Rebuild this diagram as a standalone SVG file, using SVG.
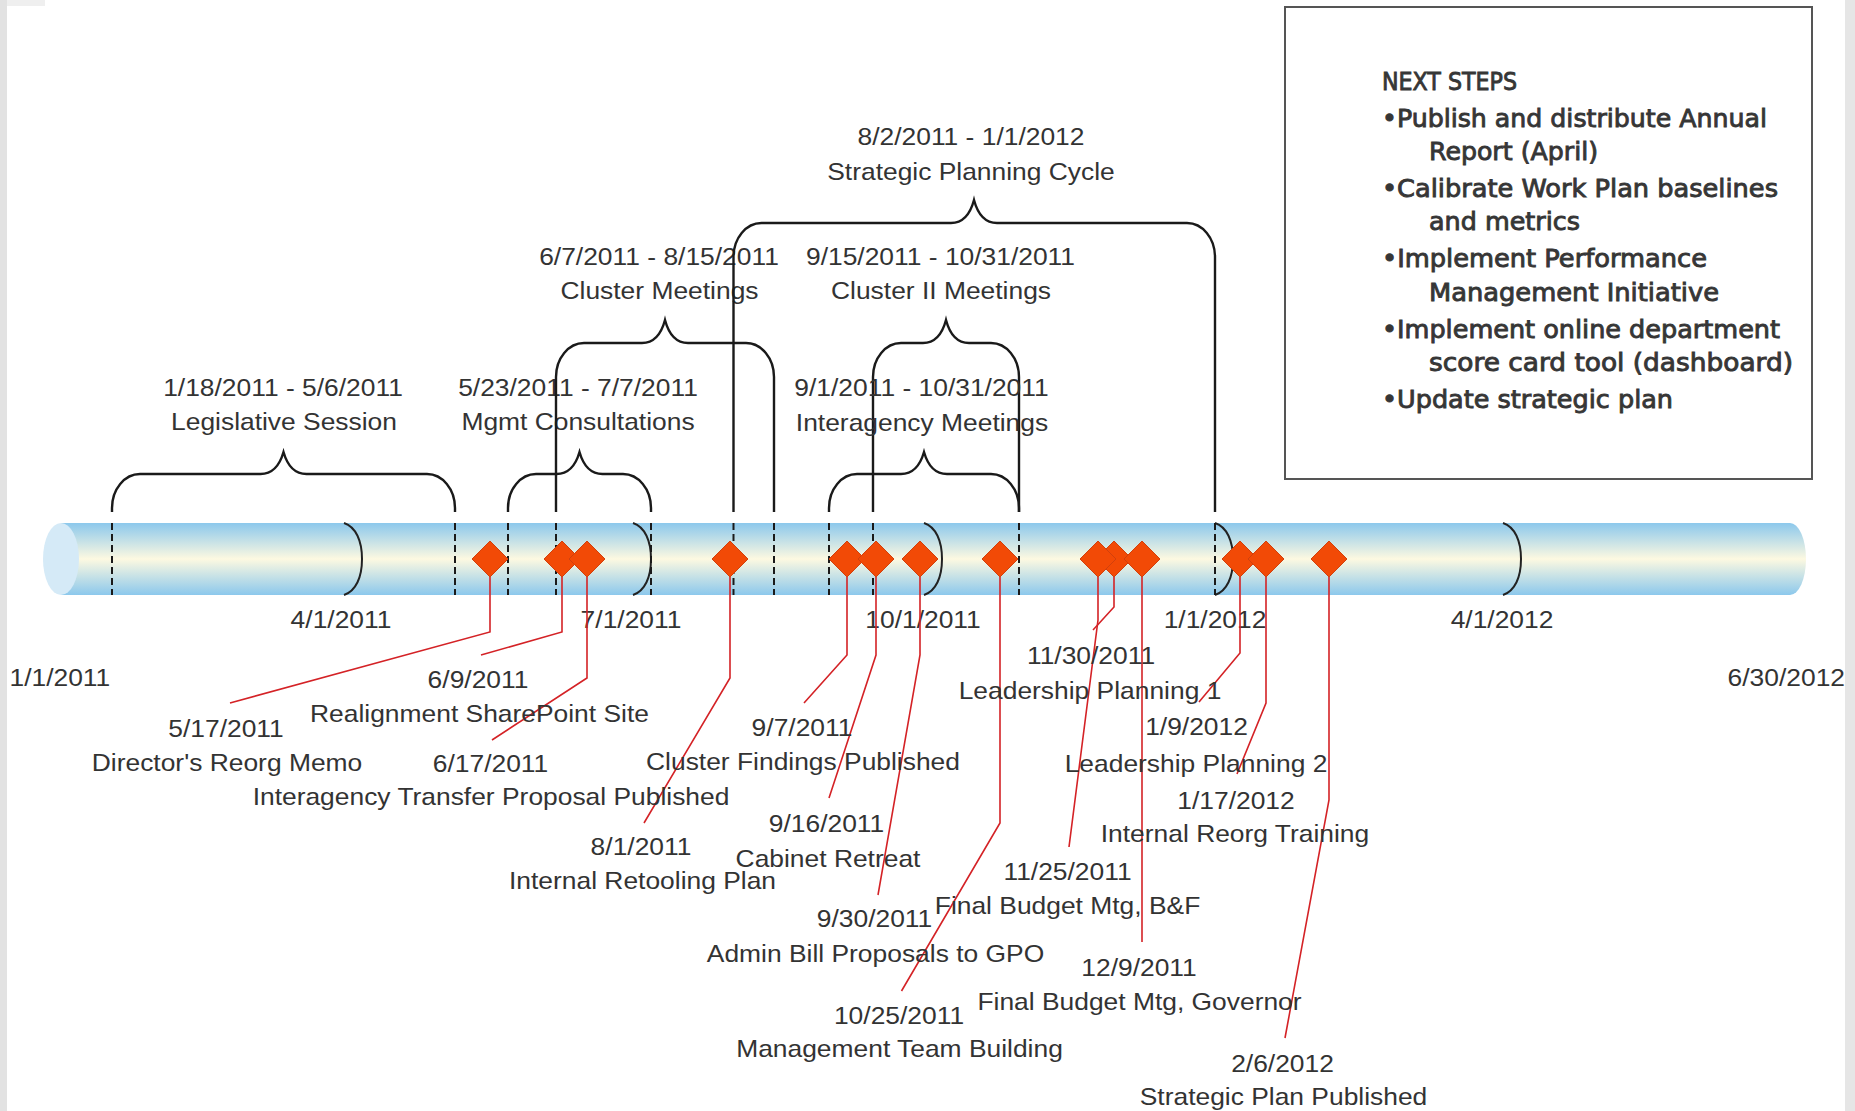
<svg xmlns="http://www.w3.org/2000/svg" width="1855" height="1111" viewBox="0 0 1855 1111">
<style>
.t{font-family:"Liberation Sans",Arial,sans-serif;font-size:24px;fill:#333;text-anchor:middle}
.ts{text-anchor:start}
.te{text-anchor:end}
.br{fill:none;stroke:#1a1a1a;stroke-width:2.4}
.dash{stroke:#1a1a1a;stroke-width:2;stroke-dasharray:7 4}
.tick{fill:none;stroke:#222;stroke-width:2}
.lead{fill:none;stroke:#d42226;stroke-width:1.6}
.dia{fill:#f24a06;stroke:#d2400c;stroke-width:1}
.ns{font-family:"DejaVu Sans",sans-serif;font-size:25px;fill:#363636;stroke:#363636;stroke-width:0.9}
</style>
<defs>
<linearGradient id="barg" x1="0" y1="0" x2="0" y2="1">
<stop offset="0" stop-color="#8cc8ec"/>
<stop offset="0.5" stop-color="#fdf9e1"/>
<stop offset="1" stop-color="#8cc8ec"/>
</linearGradient>
<path id="dm" d="M0 -18 L18 0 L0 18 L-18 0Z"/>
</defs>
<rect width="1855" height="1111" fill="#fff"/>
<rect x="0" y="0" width="7" height="1111" fill="#e2e2e2"/>
<rect x="7" y="0" width="38" height="6" fill="#efefef"/>
<rect x="1845" y="0" width="10" height="1111" fill="#e6e6e6"/>

<g id="next-steps">
<rect x="1285" y="7" width="527" height="472" fill="#fff" stroke="#555" stroke-width="2"/>
<text class="ns" x="1382" y="90" textLength="135" lengthAdjust="spacingAndGlyphs">NEXT STEPS</text>
<text class="ns" x="1382" y="127" textLength="385" lengthAdjust="spacingAndGlyphs">•Publish and distribute Annual</text>
<text class="ns" x="1429" y="160" textLength="169" lengthAdjust="spacingAndGlyphs">Report (April)</text>
<text class="ns" x="1382" y="197" textLength="396" lengthAdjust="spacingAndGlyphs">•Calibrate Work Plan baselines</text>
<text class="ns" x="1429" y="230" textLength="151" lengthAdjust="spacingAndGlyphs">and metrics</text>
<text class="ns" x="1382" y="267" textLength="325" lengthAdjust="spacingAndGlyphs">•Implement Performance</text>
<text class="ns" x="1429" y="301" textLength="290" lengthAdjust="spacingAndGlyphs">Management Initiative</text>
<text class="ns" x="1382" y="338" textLength="398" lengthAdjust="spacingAndGlyphs">•Implement online department</text>
<text class="ns" x="1429" y="371" textLength="364" lengthAdjust="spacingAndGlyphs">score card tool (dashboard)</text>
<text class="ns" x="1382" y="408" textLength="291" lengthAdjust="spacingAndGlyphs">•Update strategic plan</text>
</g>

<g id="timeline-bar">
<rect x="61" y="523" width="1729" height="72" fill="url(#barg)"/>
<path d="M1790 523 A16 36 0 0 1 1790 595 Z" fill="url(#barg)"/>
<ellipse cx="61" cy="559" rx="18" ry="36" fill="#d5eaf7"/>
<path class="tick" d="M344 523 C356 527 362 541 362 559 C362 577 356 591 344 595"/>
<path class="tick" d="M633 523 C645 527 651 541 651 559 C651 577 645 591 633 595"/>
<path class="tick" d="M924 523 C936 527 942 541 942 559 C942 577 936 591 924 595"/>
<path class="tick" d="M1215 523 C1227 527 1233 541 1233 559 C1233 577 1227 591 1215 595"/>
<path class="tick" d="M1503 523 C1515 527 1521 541 1521 559 C1521 577 1515 591 1503 595"/>
<g class="dash">
<line x1="112" y1="523" x2="112" y2="595"/>
<line x1="455" y1="523" x2="455" y2="595"/>
<line x1="508" y1="523" x2="508" y2="595"/>
<line x1="556" y1="523" x2="556" y2="595"/>
<line x1="651" y1="523" x2="651" y2="595"/>
<line x1="733.5" y1="523" x2="733.5" y2="595"/>
<line x1="774" y1="523" x2="774" y2="595"/>
<line x1="829" y1="523" x2="829" y2="595"/>
<line x1="873" y1="523" x2="873" y2="595"/>
<line x1="1019" y1="523" x2="1019" y2="595"/>
<line x1="1215" y1="523" x2="1215" y2="595"/>
</g>
<text class="t ts" transform="translate(9.5 686) scale(1.1 1)">1/1/2011</text>
<text class="t" transform="translate(341 628) scale(1.1 1)">4/1/2011</text>
<text class="t" transform="translate(631 628) scale(1.1 1)">7/1/2011</text>
<text class="t" transform="translate(923 628) scale(1.1 1)">10/1/2011</text>
<text class="t" transform="translate(1215 628) scale(1.1 1)">1/1/2012</text>
<text class="t" transform="translate(1502 628) scale(1.1 1)">4/1/2012</text>
<text class="t te" transform="translate(1845 686) scale(1.1 1)">6/30/2012</text>
</g>

<g id="span-legislative">
<path class="br" d="M112 512 V508 A28 34 0 0 1 140 474 H260.5 C272.5 474 279.5 466 283.5 452 C287.5 466 294.5 474 306.5 474 H427 A28 34 0 0 1 455 508 V512"/>
<text class="t" transform="translate(283 396) scale(1.1 1)">1/18/2011 - 5/6/2011</text>
<text class="t" transform="translate(284 430) scale(1.1 1)">Legislative Session</text>
</g>
<g id="span-mgmt">
<path class="br" d="M508 512 V508 A28 34 0 0 1 536 474 H556.5 C568.5 474 575.5 466 579.5 452 C583.5 466 590.5 474 602.5 474 H623 A28 34 0 0 1 651 508 V512"/>
<text class="t" transform="translate(578 396) scale(1.1 1)">5/23/2011 - 7/7/2011</text>
<text class="t" transform="translate(578 430) scale(1.1 1)">Mgmt Consultations</text>
</g>
<g id="span-cluster">
<path class="br" d="M556 512 V377 A28 34 0 0 1 584 343 H642 C654 343 661 335 665 320 C669 335 676 343 688 343 H746 A28 34 0 0 1 774 377 V512"/>
<text class="t" transform="translate(659 265) scale(1.1 1)">6/7/2011 - 8/15/2011</text>
<text class="t" transform="translate(659.5 299) scale(1.1 1)">Cluster Meetings</text>
</g>
<g id="span-strategic">
<path class="br" d="M733.5 512 V257 A28 34 0 0 1 761.5 223 H951 C963 223 970 215 974 200 C978 215 985 223 997 223 H1187 A28 34 0 0 1 1215 257 V512"/>
<text class="t" transform="translate(971 145) scale(1.1 1)">8/2/2011 - 1/1/2012</text>
<text class="t" transform="translate(971 180) scale(1.1 1)">Strategic Planning Cycle</text>
</g>
<g id="span-cluster2">
<path class="br" d="M873 512 V377 A28 34 0 0 1 901 343 H923 C935 343 942 335 946 320 C950 335 957 343 969 343 H991 A28 34 0 0 1 1019 377 V512"/>
<text class="t" transform="translate(940.5 265) scale(1.1 1)">9/15/2011 - 10/31/2011</text>
<text class="t" transform="translate(941 299) scale(1.1 1)">Cluster II Meetings</text>
</g>
<g id="span-interagency">
<path class="br" d="M829 512 V508 A28 34 0 0 1 857 474 H901 C913 474 920 466 924 452 C928 466 935 474 947 474 H991 A28 34 0 0 1 1019 508 V512"/>
<text class="t" transform="translate(921.5 396) scale(1.1 1)">9/1/2011 - 10/31/2011</text>
<text class="t" transform="translate(922 430.5) scale(1.1 1)">Interagency Meetings</text>
</g>

<g id="connectors" class="lead">
<polyline points="490,559 490,632 230,703"/>
<polyline points="562,559 562,632 481,655"/>
<polyline points="587,559 587,678 492,740"/>
<polyline points="730,559 730,678 644,823"/>
<polyline points="847,559 847,655 804,703"/>
<polyline points="876,559 876,655 829,798"/>
<polyline points="920,559 920,655 878,895"/>
<polyline points="1000,559 1000,823 901.5,991"/>
<polyline points="1098,559 1098,620 1069,847"/>
<polyline points="1114,559 1114,607 1093,630"/>
<polyline points="1142,559 1142,942"/>
<polyline points="1240,559 1240,653 1199,702"/>
<polyline points="1266,559 1266,703 1237,774"/>
<polyline points="1329,559 1329,800 1285,1038"/>
</g>

<g id="ev-20110517"><use href="#dm" class="dia" x="490" y="559"/>
<text class="t" transform="translate(226 736.5) scale(1.1 1)">5/17/2011</text>
<text class="t" transform="translate(227 770.5) scale(1.1 1)">Director's Reorg Memo</text></g>
<g id="ev-20110609"><use href="#dm" class="dia" x="562" y="559"/>
<text class="t" transform="translate(478 687.5) scale(1.1 1)">6/9/2011</text>
<text class="t" transform="translate(479.5 721.5) scale(1.1 1)">Realignment SharePoint Site</text></g>
<g id="ev-20110617"><use href="#dm" class="dia" x="587" y="559"/>
<text class="t" transform="translate(490.5 771.5) scale(1.1 1)">6/17/2011</text>
<text class="t" transform="translate(491 804.5) scale(1.1 1)">Interagency Transfer Proposal Published</text></g>
<g id="ev-20110801"><use href="#dm" class="dia" x="730" y="559"/>
<text class="t" transform="translate(641 855) scale(1.1 1)">8/1/2011</text>
<text class="t" transform="translate(642.5 888.5) scale(1.1 1)">Internal Retooling Plan</text></g>
<g id="ev-20110907"><use href="#dm" class="dia" x="847" y="559"/>
<text class="t" transform="translate(802 736) scale(1.1 1)">9/7/2011</text>
<text class="t" transform="translate(803 770) scale(1.1 1)">Cluster Findings Published</text></g>
<g id="ev-20110916"><use href="#dm" class="dia" x="876" y="559"/>
<text class="t" transform="translate(826.5 831.5) scale(1.1 1)">9/16/2011</text>
<text class="t" transform="translate(828 866.5) scale(1.1 1)">Cabinet Retreat</text></g>
<g id="ev-20110930"><use href="#dm" class="dia" x="920" y="559"/>
<text class="t" transform="translate(874.5 926.5) scale(1.1 1)">9/30/2011</text>
<text class="t" transform="translate(875.5 961.5) scale(1.1 1)">Admin Bill Proposals to GPO</text></g>
<g id="ev-20111025"><use href="#dm" class="dia" x="1000" y="559"/>
<text class="t" transform="translate(899 1023.5) scale(1.1 1)">10/25/2011</text>
<text class="t" transform="translate(899.5 1056.5) scale(1.1 1)">Management Team Building</text></g>
<g id="ev-20111130"><use href="#dm" class="dia" x="1114" y="559"/>
<text class="t" transform="translate(1091 664) scale(1.1 1)">11/30/2011</text>
<text class="t" transform="translate(1090 698.5) scale(1.1 1)">Leadership Planning 1</text></g>
<g id="ev-20111125"><use href="#dm" class="dia" x="1098" y="559"/>
<text class="t" transform="translate(1067.5 879.5) scale(1.1 1)">11/25/2011</text>
<text class="t" transform="translate(1067.5 913.5) scale(1.1 1)">Final Budget Mtg, B&amp;F</text></g>
<g id="ev-20111209"><use href="#dm" class="dia" x="1142" y="559"/>
<text class="t" transform="translate(1139 976) scale(1.1 1)">12/9/2011</text>
<text class="t" transform="translate(1139.5 1010) scale(1.1 1)">Final Budget Mtg, Governor</text></g>
<g id="ev-20120109"><use href="#dm" class="dia" x="1240" y="559"/>
<text class="t" transform="translate(1196.5 735) scale(1.1 1)">1/9/2012</text>
<text class="t" transform="translate(1196 771.5) scale(1.1 1)">Leadership Planning 2</text></g>
<g id="ev-20120117"><use href="#dm" class="dia" x="1266" y="559"/>
<text class="t" transform="translate(1236 808.5) scale(1.1 1)">1/17/2012</text>
<text class="t" transform="translate(1235 841.5) scale(1.1 1)">Internal Reorg Training</text></g>
<g id="ev-20120206"><use href="#dm" class="dia" x="1329" y="559"/>
<text class="t" transform="translate(1282.5 1071.5) scale(1.1 1)">2/6/2012</text>
<text class="t" transform="translate(1283.5 1105) scale(1.1 1)">Strategic Plan Published</text></g>
</svg>
